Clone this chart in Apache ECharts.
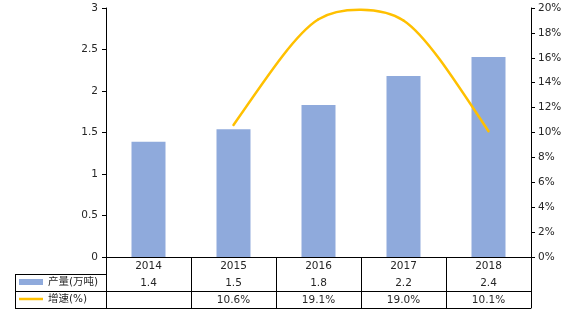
<!DOCTYPE html>
<html><head><meta charset="utf-8">
<script src="https://cdn.jsdelivr.net/npm/echarts@6/dist/echarts.min.js"></script>
<style>html,body{margin:0;padding:0;background:#fff}#c{width:568px;height:314px}</style>
</head><body><div id="c"></div>
<script>
var categories = ['2014', '2015', '2016', '2017', '2018'];
var output = [1.39, 1.54, 1.83, 2.18, 2.41];
var outputLabels = ['1.4', '1.5', '1.8', '2.2', '2.4'];
var growth = [null, 10.6, 19.1, 19.0, 10.1];
var leftTicks = [0, 0.5, 1, 1.5, 2, 2.5, 3];
var seriesNames = ['产量(万吨)', '增速(%)'];

var FONT = '"DejaVu Sans", "Noto Sans CJK SC", sans-serif';
var TXT = '#262626';
var FS = 10.5;
var LINE_COLOR = '#FFC000';
var TENSION = 0.125;   // interior tangent factor
var END_PULL = 0.6;    // end-segment control point pulled toward inner control point

var chart = echarts.init(document.getElementById('c'), null, {renderer: 'canvas'});

function tableAxis(offset, data, show) {
  return {
    type: 'category', data: data, position: 'bottom', offset: offset,
    gridIndex: 0,
    axisLine: {show: true, lineStyle: {color: '#000', width: 1}},
    axisTick: {show: false},
    axisLabel: {show: show, color: TXT, fontSize: FS, fontFamily: FONT, margin: 4, interval: 0},
    splitLine: {show: false}
  };
}

var growthLabels = growth.map(function (v) { return v == null ? '' : v.toFixed(1) + '%'; });

// Excel-style smoothed segment between category i and i+1
function renderSmooth(params, api) {
  var i = params.dataIndex;
  if (growth[i] == null || i + 1 >= growth.length || growth[i + 1] == null) return;
  var pt = function (k) { return api.coord([k, growth[k]]); };
  var p1 = pt(i), p2 = pt(i + 1);
  var hasPrev = i - 1 >= 0 && growth[i - 1] != null;
  var hasNext = i + 2 < growth.length && growth[i + 2] != null;
  var c1, c2;
  if (hasPrev) {
    var p0 = pt(i - 1);
    c1 = [p1[0] + (p2[0] - p0[0]) * TENSION, p1[1] + (p2[1] - p0[1]) * TENSION];
  }
  if (hasNext) {
    var p3 = pt(i + 2);
    c2 = [p2[0] - (p3[0] - p1[0]) * TENSION, p2[1] - (p3[1] - p1[1]) * TENSION];
  }
  if (!c1 && c2) c1 = [p1[0] + (c2[0] - p1[0]) * END_PULL, p1[1] + (c2[1] - p1[1]) * END_PULL];
  if (!c2 && c1) c2 = [p2[0] + (c1[0] - p2[0]) * END_PULL, p2[1] + (c1[1] - p2[1]) * END_PULL];
  if (!c1 && !c2) { c1 = p1; c2 = p2; }
  return {
    type: 'bezierCurve',
    shape: {
      x1: p1[0], y1: p1[1], x2: p2[0], y2: p2[1],
      cpx1: c1[0], cpy1: c1[1], cpx2: c2[0], cpy2: c2[1]
    },
    style: {stroke: LINE_COLOR, fill: null, lineWidth: 2.5, lineCap: 'round'},
    silent: true
  };
}

chart.setOption({
  animation: false,
  grid: {left: 106, right: 37, top: 8, bottom: 57, containLabel: false},
  legend: {
    orient: 'vertical', left: 19, top: 275, itemGap: 3, padding: 0, height: 40,
    itemWidth: 24, itemHeight: 6, selectedMode: false,
    textStyle: {color: TXT, fontSize: FS, fontFamily: FONT, lineHeight: 14},
    data: [
      {name: seriesNames[0], icon: 'rect'},
      {name: seriesNames[1], icon: 'path://M0,0H24V2.5H0Z'}
    ]
  },
  xAxis: [
    {
      type: 'category', data: categories, position: 'bottom',
      axisLine: {show: true, lineStyle: {color: '#000', width: 1}},
      axisTick: {show: true, length: 51, inside: false, lineStyle: {color: '#000'}},
      axisLabel: {color: TXT, fontSize: FS, fontFamily: FONT, margin: 4},
      splitLine: {show: false}
    },
    tableAxis(17, outputLabels, true),
    tableAxis(34, growthLabels, true),
    tableAxis(51, categories, false)
  ],
  yAxis: [
    {
      type: 'value', min: 0, max: 3, interval: 0.5, position: 'left',
      axisLine: {show: true, lineStyle: {color: '#000'}},
      axisTick: {show: true, length: 4, lineStyle: {color: '#000'}},
      axisLabel: {color: TXT, fontSize: FS, fontFamily: FONT, margin: 8,
        formatter: function (v) { return leftTicks.indexOf(v) >= 0 ? String(v) : ''; }},
      splitLine: {show: false}
    },
    {
      type: 'value', min: 0, max: 20, interval: 2, position: 'right',
      axisLine: {show: true, lineStyle: {color: '#000'}},
      axisTick: {show: true, length: 4, lineStyle: {color: '#000'}},
      axisLabel: {color: TXT, fontSize: FS, fontFamily: FONT, margin: 7, formatter: '{value}%'},
      splitLine: {show: false}
    }
  ],
  series: [
    {
      name: seriesNames[0], type: 'bar', data: output, xAxisIndex: 0, yAxisIndex: 0,
      barWidth: 34, itemStyle: {color: '#8FAADC'}
    },
    {
      name: seriesNames[1], type: 'custom', xAxisIndex: 0, yAxisIndex: 1,
      data: growth.map(function (v, i) { return [i, v == null ? 0 : v]; }),
      encode: {x: 0, y: 1},
      itemStyle: {color: LINE_COLOR},
      renderItem: renderSmooth, z: 3
    }
  ],
  graphic: [
    {type: 'line', silent: true, shape: {x1: 15, y1: 274.5, x2: 106, y2: 274.5}, style: {stroke: '#000', lineWidth: 1}},
    {type: 'line', silent: true, shape: {x1: 15, y1: 291.5, x2: 106, y2: 291.5}, style: {stroke: '#000', lineWidth: 1}},
    {type: 'line', silent: true, shape: {x1: 15, y1: 308.5, x2: 106, y2: 308.5}, style: {stroke: '#000', lineWidth: 1}},
    {type: 'line', silent: true, shape: {x1: 15.5, y1: 274.5, x2: 15.5, y2: 308.5}, style: {stroke: '#000', lineWidth: 1}},
    {type: 'line', silent: true, shape: {x1: 106.5, y1: 257, x2: 106.5, y2: 308.5}, style: {stroke: '#000', lineWidth: 1}}
  ]
});
</script></body></html>
